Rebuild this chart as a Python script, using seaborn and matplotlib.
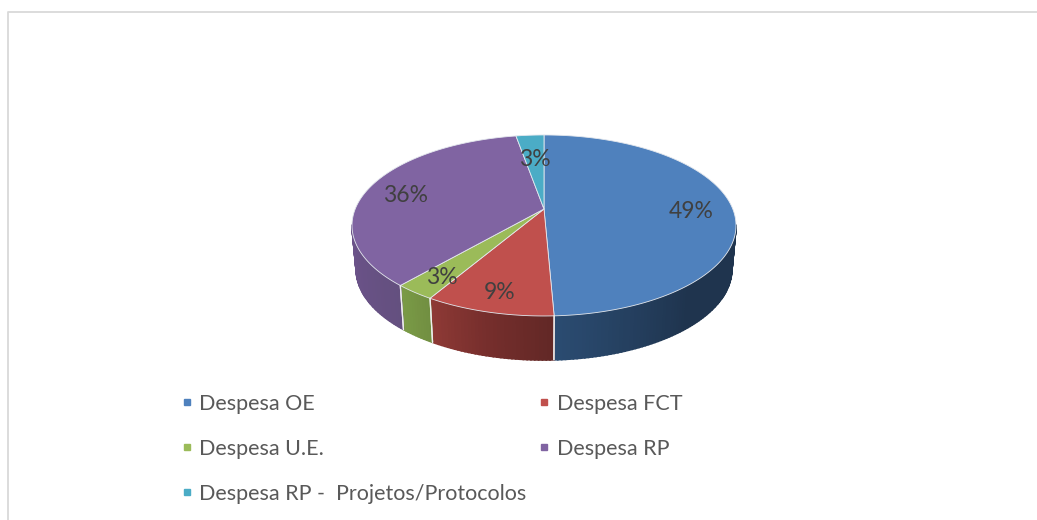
import numpy as np
import matplotlib
matplotlib.use("Agg")
import matplotlib.pyplot as plt
from matplotlib.lines import Line2D
import seaborn as sns

# values (shares in %)
categories = ["Despesa OE", "Despesa FCT", "Despesa U.E.", "Despesa RP", "Despesa RP -  Projetos/Protocolos"]
shares = [49.3, 9.2, 2.9, 35.8, 2.8]
top_colors = ["#4f81bd", "#c0504d", "#9bbb59", "#8064a2", "#4bacc6"]
# wall shades, from the right end of each slice to its left end
wall_right = ["#1f344e", "#622826", "#718f41", "#64507f", "#3a8296"]
wall_mid = ["#1f344e", "#762e2c", "#769544", "#685185", "#3a8296"]
wall_left = ["#2b4c72", "#8f3a36", "#7b9b47", "#6b5389", "#3a8296"]
label_shift = [(-1, 4), (-2, 6), (-3, 5), (0, 4), (2, 11)]

sns.set_theme(style="white")
plt.rcParams["font.family"] = ["Lato", "DejaVu Sans"]

fig, ax = plt.subplots(figsize=(10.37, 5.2), dpi=100)
fig.subplots_adjust(0, 0, 1, 1)

# pie gives the wedge angles, the tilted disc is then drawn from them
wedges, _ = ax.pie(shares, startangle=90, counterclock=False)
cum = np.cumsum([0] + [w.theta2 - w.theta1 for w in wedges])
for w in wedges:
    w.remove()

CX, CY, RX, RY, K = 544, 209, 188.8, 87.5, 0.182
DEPTH, SHRINK = 44, 0.978


def project(deg, r=1.0):
    a = np.radians(deg)
    u, v = r * np.sin(a), r * np.cos(a)
    w = 1 + K * v
    return CX + RX * u / w, CY - RY * v / w


def rim_low(deg):
    x, y = project(deg)
    return CX + (x - CX) * SHRINK, y + DEPTH


# side wall
for i, (a0, a1) in enumerate(zip(cum[:-1], cum[1:])):
    lo, hi = max(a0, 100), min(a1, 260)
    if hi <= lo:
        continue
    steps = np.linspace(lo, hi, int(hi - lo) + 2)
    shades = sns.blend_palette([wall_right[i], wall_mid[i], wall_left[i]], len(steps))
    for s0, s1, c in zip(steps[:-1], steps[1:], shades):
        tx, ty = project(np.array([s0, s1]))
        bx, by = rim_low(np.array([s0, s1]))
        ax.fill([tx[0], tx[1], bx[1], bx[0]], [ty[0], ty[1], by[1], by[0]],
                facecolor=c, edgecolor=c, lw=1.2)
    # light seam between slices
    for edge in (a0, a1):
        if 100 < edge < 260:
            tx, ty = project(edge)
            bx, by = rim_low(edge)
            ax.plot([tx, bx], [ty, by], color="#eeeeee", lw=0.9)

# top face
for i, (a0, a1) in enumerate(zip(cum[:-1], cum[1:])):
    arc = np.linspace(a0, a1, int(a1 - a0) * 2 + 2)
    x, y = project(arc)
    ax.fill(np.r_[CX, x], np.r_[CY, y], facecolor=top_colors[i], edgecolor="#e4e8ee", lw=0.6, joinstyle="round")

# percent labels
for i, (a0, a1) in enumerate(zip(cum[:-1], cum[1:])):
    x, y = project((a0 + a1) / 2, 0.79)
    ax.text(x + label_shift[i][0], y + label_shift[i][1], f"{shares[i]:.0f}%", ha="center", va="center",
            fontsize=16.5, color="#404040")

# frame lines of the original picture
ax.plot([7.5, 7.5, 1037], [520, 11.5, 11.5], color="#d9d9d9", lw=1.3)

ax.set_xlim(0, 1037)
ax.set_ylim(520, 0)
ax.set_aspect("auto")
ax.axis("off")

# legend fills by column, so order it to read row by row
order = [0, 2, 4, 1, 3]
handles = [Line2D([], [], ls="", marker="s", ms=4.9, color=top_colors[i]) for i in order]
ax.legend(handles, [categories[i] for i in order], ncols=2, frameon=False, loc="upper left",
          bbox_to_anchor=(179, 394), bbox_transform=ax.transData, prop={"size": 15.5},
          labelcolor="#595959", labelspacing=1.15, handlelength=0.7, handletextpad=0.25,
          columnspacing=0.45, borderpad=0, borderaxespad=0)

fig.savefig("out.png", dpi=100)
